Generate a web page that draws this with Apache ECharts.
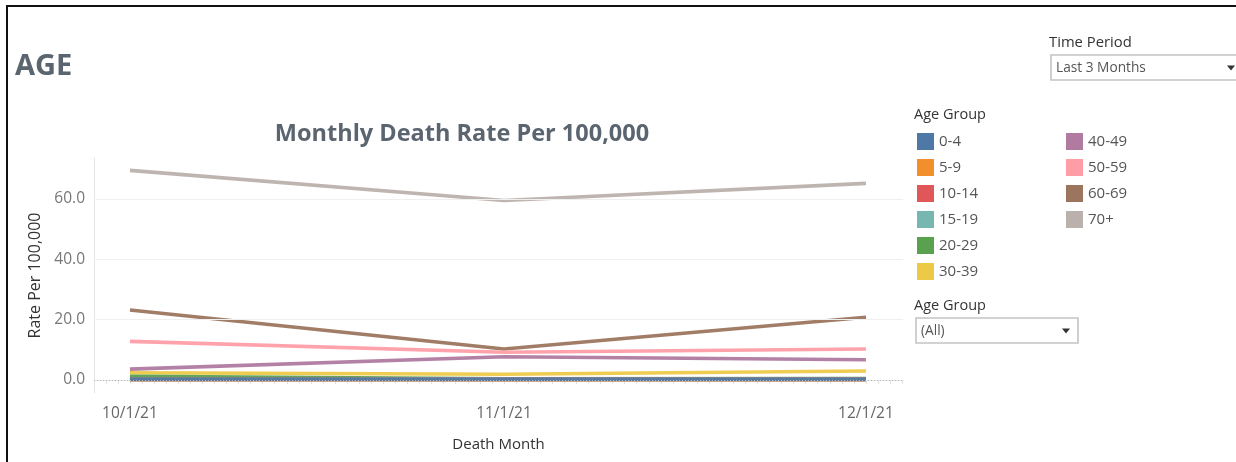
<!DOCTYPE html>
<html>
<head>
<meta charset="utf-8">
<script src="https://cdn.jsdelivr.net/npm/echarts@6/dist/echarts.min.js"></script>
<style>
html,body{margin:0;padding:0;background:#fff;}
#chart{width:1236px;height:462px;}
</style>
</head>
<body>
<div id="chart"></div>
<script>
// ---- data ----
const months = ['2021-10-01', '2021-11-01', '2021-12-01'];
const monthLabels = ['10/1/21', '11/1/21', '12/1/21'];
const ageGroups = ['0-4', '5-9', '10-14', '15-19', '20-29', '30-39', '40-49', '50-59', '60-69', '70+'];
const v0_4   = [0.2, 0.2, 0.2];
const v5_9   = [0.1, 0.1, 0.1];
const v10_14 = [0.2, 0.2, 0.2];
const v15_19 = [0.3, 0.3, 0.3];
const v20_29 = [1.2, 0.4, 0.5];
const v30_39 = [2.4, 1.9, 3.0];
const v40_49 = [3.6, 7.7, 6.7];
const v50_59 = [12.8, 9.2, 10.3];
const v60_69 = [23.2, 10.3, 20.8];
const v70p   = [69.5, 59.5, 65.2];
const yTicks = [0, 20, 40, 60];

const seriesValues = [v0_4, v5_9, v10_14, v15_19, v20_29, v30_39, v40_49, v50_59, v60_69, v70p];
const colors = ['#4e79a7', '#f28e2b', '#e15759', '#76b7b2', '#59a14f', '#edc948', '#b07aa1', '#ff9da7', '#9c755f', '#bab0ac'];

const FONT = 'Open Sans';
const DAY = 86400000;
function parseD(s){ const p = s.split('-'); return Date.UTC(+p[0], +p[1]-1, +p[2]); }
const monthTs = months.map(parseD);
const xMin = monthTs[0] - 2.98 * DAY;
const xMax = monthTs[2] + 3.07 * DAY;
const dailyTicks = [];
for (let t = monthTs[0] - 2 * DAY; t <= xMax; t += DAY) dailyTicks.push(t);

const chart = echarts.init(document.getElementById('chart'), null, {renderer: 'canvas'});

const series = [{
  type: 'line', data: [], silent: true, z: 1,
  markLine: {
    silent: true, symbol: 'none', label: {show: false},
    data: [
      {yAxis: 20, lineStyle: {color: '#efefef', width: 1, type: 'solid'}},
      {yAxis: 40, lineStyle: {color: '#efefef', width: 1, type: 'solid'}},
      {yAxis: 60, lineStyle: {color: '#efefef', width: 1, type: 'solid'}},
      {yAxis: 0, lineStyle: {color: '#b5b5b5', width: 1, type: [1, 2]}}
    ]
  }
}];
// draw in reverse so the youngest groups sit on top (as in the reference)
for (let i = ageGroups.length - 1; i >= 0; i--) {
  series.push({
    name: ageGroups[i], type: 'line', z: 3,
    data: seriesValues[i].map((v, j) => [monthTs[j], v]),
    showSymbol: false, symbol: 'none',
    color: colors[i],
    lineStyle: {width: 3.6, color: colors[i], opacity: 0.95},
    itemStyle: {color: colors[i]}
  });
}

function dropdown(x, y, w, h, text, arrowX) {
  return [
    {type: 'rect', shape: {x: x, y: y, width: w, height: h}, style: {fill: '#fff', stroke: '#c4c4c4', lineWidth: 1.6}},
    {type: 'text', x: x + 5, y: y + h / 2 + 1, style: {text: text, font: '13.7px "' + FONT + '"', fill: '#555', verticalAlign: 'middle'}},
    {type: 'polygon', shape: {points: [[arrowX - 4, y + h/2 - 2], [arrowX + 4, y + h/2 - 2], [arrowX, y + h/2 + 3]]}, style: {fill: '#333'}}
  ];
}

const option = {
  animation: false,
  backgroundColor: '#fff',
  title: {
    text: 'Monthly Death Rate Per 100,000',
    left: 457, top: 117, textAlign: 'center',
    textStyle: {fontFamily: FONT, fontSize: 23.5, fontWeight: 'bold', color: '#5b6570'}
  },
  grid: {left: 94, right: 333, top: 158, bottom: 69},
  xAxis: {
    type: 'value', min: xMin, max: xMax,
    name: 'Death Month', nameLocation: 'middle', nameGap: 44,
    nameTextStyle: {fontFamily: FONT, fontSize: 15, color: '#333'},
    axisLine: {show: true, lineStyle: {color: '#e6e6e6', width: 1}},
    axisTick: {show: true, customValues: dailyTicks, length: 4, lineStyle: {color: '#e3e3e3'}},
    axisLabel: {
      customValues: monthTs, margin: 13,
      fontFamily: FONT, fontSize: 15.5, color: '#666',
      formatter: function (v) {
        const i = monthTs.indexOf(v);
        return i >= 0 ? monthLabels[i] : '';
      }
    },
    splitLine: {show: false}
  },
  yAxis: {
    type: 'value', min: -4.3, max: 73.6,
    name: 'Rate Per 100,000', nameLocation: 'middle', nameGap: 51,
    nameTextStyle: {fontFamily: FONT, fontSize: 16, color: '#333'},
    axisLine: {show: true, lineStyle: {color: '#e6e6e6', width: 1}},
    axisTick: {show: false},
    axisLabel: {
      customValues: yTicks, margin: 9,
      fontFamily: FONT, fontSize: 15.5, color: '#777',
      formatter: function (v) { return Number(v).toFixed(1); }
    },
    splitLine: {show: false}
  },
  legend: [
    {
      data: ageGroups.slice(0, 6), orient: 'vertical', left: 912, top: 128,
      icon: 'rect', itemWidth: 17, itemHeight: 17, itemGap: 9, selectedMode: false,
      textStyle: {fontFamily: FONT, fontSize: 15, color: '#555'}
    },
    {
      data: ageGroups.slice(6), orient: 'vertical', left: 1061, top: 128,
      icon: 'rect', itemWidth: 17, itemHeight: 17, itemGap: 9, selectedMode: false,
      textStyle: {fontFamily: FONT, fontSize: 15, color: '#555'}
    }
  ],
  graphic: [
    {type: 'rect', shape: {x: 7, y: 6, width: 1300, height: 600}, style: {fill: 'none', stroke: '#111', lineWidth: 2}, z: 100},
    {type: 'text', x: 15, y: 67, style: {text: 'AGE', font: 'bold 29px "' + FONT + '"', fill: '#5b6570', verticalAlign: 'middle'}},
    {type: 'text', x: 1049, y: 43, style: {text: 'Time Period', font: '14.8px "' + FONT + '"', fill: '#333', verticalAlign: 'middle'}},
    {type: 'text', x: 914, y: 115, style: {text: 'Age Group', font: '14.5px "' + FONT + '"', fill: '#333', verticalAlign: 'middle'}},
    {type: 'text', x: 914, y: 306, style: {text: 'Age Group', font: '14.5px "' + FONT + '"', fill: '#333', verticalAlign: 'middle'}}
  ].concat(dropdown(1051, 55, 200, 25, 'Last 3 Months', 1231))
   .concat(dropdown(916, 318, 162, 25, '(All)', 1066)),
  series: series
};
chart.setOption(option);
</script>
</body>
</html>
